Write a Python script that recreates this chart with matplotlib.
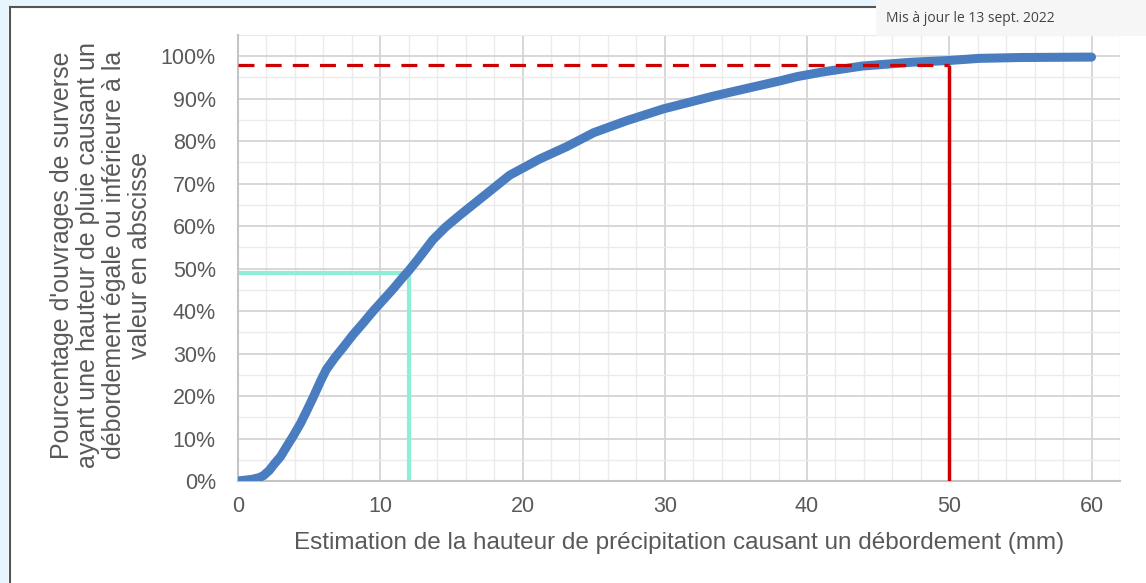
import matplotlib
matplotlib.use("Agg")
import matplotlib.pyplot as plt
from matplotlib.lines import Line2D
from matplotlib.patches import Rectangle
from matplotlib.ticker import MultipleLocator, FixedLocator

# ---- data ----
precip_mm = [0, 0.5, 1.0, 1.5, 1.8, 2.2, 2.5, 3.0, 3.4, 3.9, 4.4, 4.8, 5.3, 5.8,
             6.2, 6.8, 7.4, 8.1, 8.8, 9.5, 10.2, 10.9, 11.6, 12.0, 12.6, 13.7,
             14.6, 15.6, 17.5, 19.1, 21.2, 23.1, 25.0, 27.3, 29.9, 33.4, 36.0, 38.1,
             39.3, 41.1, 43.9, 47.4, 50.0, 52.1, 55.0, 60.0]
cum_share = [0, 0.002, 0.004, 0.008, 0.013, 0.025, 0.038, 0.058, 0.08, 0.107,
             0.136, 0.163, 0.198, 0.235, 0.262, 0.29, 0.315, 0.345, 0.372, 0.40,
             0.426, 0.452, 0.48, 0.495, 0.52, 0.568, 0.598, 0.626, 0.677, 0.72, 0.758,
             0.787, 0.82, 0.848, 0.876, 0.906, 0.926, 0.942, 0.952, 0.963, 0.977,
             0.986, 0.99, 0.995, 0.997, 0.998]
median_x, median_y = 12, 0.49
high_x, high_y = 50, 0.98
x_ticks = [0, 10, 20, 30, 40, 50, 60]
y_ticks = [i / 10 for i in range(11)]
y_tick_labels = [f"{i * 10}%" for i in range(11)]
y_label = ("Pourcentage d'ouvrages de surverse\n"
           "ayant une hauteur de pluie causant un\n"
           "débordement égale ou inférieure à la\n"
           "valeur en abscisse")
x_label = "Estimation de la hauteur de précipitation causant un débordement (mm)"
update_text = "Mis à jour le 13 sept. 2022"

plt.rcParams['font.family'] = ['Liberation Sans', 'DejaVu Sans']

W, H = 1146, 583
fig = plt.figure(figsize=(W / 100, H / 100), dpi=100)
fig.patch.set_facecolor("white")

# frame decorations
fig.patches.append(Rectangle((0, 0), 8 / W, 1, transform=fig.transFigure,
                             facecolor="#e6f5fe", edgecolor="none", zorder=0))
fig.patches.append(Rectangle((0, 1 - 6 / H), 1, 6 / H, transform=fig.transFigure,
                             facecolor="#e6f5fe", edgecolor="none", zorder=0))
fig.lines.append(Line2D([10 / W, 10 / W], [0, 1 - 6.5 / H], transform=fig.transFigure,
                        color="#555555", lw=1.5))
fig.lines.append(Line2D([10 / W, 876 / W], [1 - 6.5 / H, 1 - 6.5 / H],
                        transform=fig.transFigure, color="#555555", lw=1.5))

ax = fig.add_axes([238 / W, 1 - 481 / H, (1120 - 238) / W, (481 - 35) / H])
ax.set_xlim(0, 62)
ax.set_ylim(0, 1.05)

ax.xaxis.set_major_locator(FixedLocator(x_ticks))
ax.xaxis.set_minor_locator(MultipleLocator(2))
ax.yaxis.set_major_locator(FixedLocator(y_ticks))
ax.yaxis.set_minor_locator(MultipleLocator(0.05))
ax.set_yticklabels(y_tick_labels)
ax.set_xticklabels([str(v) for v in x_ticks])

ax.grid(which="major", color="#d4d4d4", lw=1.3)
ax.grid(which="minor", color="#ebebeb", lw=1.0)
ax.set_axisbelow(True)
ax.tick_params(which="both", length=0, colors="#595959", labelsize=15.5)
ax.tick_params(axis="y", pad=16)
ax.tick_params(axis="x", pad=11)
for s in ["top", "right"]:
    ax.spines[s].set_visible(False)
for s in ["left", "bottom"]:
    ax.spines[s].set_color("#c4c4c4")
    ax.spines[s].set_linewidth(1.5)

# reference lines
ax.plot([0, median_x], [median_y, median_y], color="#8feed6", lw=3, zorder=2,
        solid_capstyle="butt")
ax.plot([median_x, median_x], [0, median_y], color="#8feed6", lw=3, zorder=2,
        solid_capstyle="butt")

ax.plot(precip_mm, cum_share, color="#4a7dc0", lw=6.5, zorder=3,
        solid_capstyle="round", solid_joinstyle="round")

ax.plot([0, high_x], [high_y, high_y], color="#cc0000", lw=2.3, zorder=4,
        dashes=(5, 3.5))
ax.plot([high_x, high_x], [0, high_y], color="#cc0000", lw=2.5, zorder=4,
        solid_capstyle="butt")

fig.text(101 / W, 1 - 255 / H, y_label, rotation=90, ha="center", va="center",
         multialignment="center", fontsize=18, color="#595959", linespacing=1.1)
fig.text(679 / W, 1 - 543 / H, x_label, ha="center", va="center",
         fontsize=17.5, color="#595959")

# update banner
fig.patches.append(Rectangle((876 / W, 1 - 36 / H), (W - 876) / W, 36 / H,
                             transform=fig.transFigure, facecolor="#f6f6f6",
                             edgecolor="none", zorder=5))
fig.text(886 / W, 1 - 19 / H, update_text, ha="left", va="center",
         fontsize=10, color="#444444", family=["Open Sans", "DejaVu Sans"], zorder=6)

fig.savefig("out.png", dpi=100)
